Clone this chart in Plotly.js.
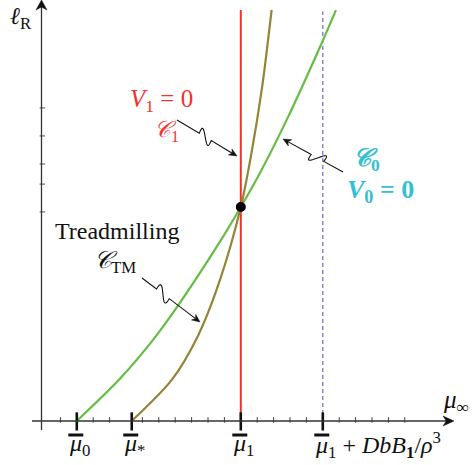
<!DOCTYPE html>
<html><head><meta charset="utf-8">
<script src="https://cdn.plot.ly/plotly-3.0.1.min.js"></script>
<style>html,body{margin:0;padding:0;background:#fff}</style>
</head><body><div id="chart" style="width:475px;height:465px"></div>
<script>
// ---- data (x: mu_inf units, y: l_R units) ----
const greenX = [2.0, 4.6, 6.65, 8.0, 10.73, 12.0, 13.17, 14.88, 16.97, 17.8];
const greenY = [0, 1.95, 3.79, 5.2, 8.38, 10.0, 11.59, 14.2, 17.72, 19.2];
const oliveX = [5.35, 7.79, 9.4, 10.73, 12.0, 12.6, 13.3, 13.88];
const oliveY = [0, 1.92, 4.0, 6.59, 10.0, 12.3, 15.6, 19.21];
const redX = [12, 12];
const redY = [0, 19.2];
const blueX = [17, 17];
const blueY = [0, 19.13];
const dotX = [12];
const dotY = [10];
const majorTickX = [2, 5.35, 12, 17];
const minorTickX = [1, 3, 4, 6, 7, 8, 9, 10, 11, 13, 14, 15, 16, 18, 19, 20, 21, 22];
const yTickY = [9.77, 11.07, 12.01, 13.32, 14.63];
const tickLabels = ['<i>μ</i><sub>0</sub>', '<i>μ</i><sub>*</sub>', '<i>μ</i><sub>1</sub>',
  '<i>μ</i><sub>1</sub> + <i>DbB</i><sub><b>1</b></sub>/<i>ρ</i><sup>3</sup>'];

// ---- geometry ----
const W = 475, H = 465;
const X0 = 44, SX = 16.4, Y0 = 421, SY = 21.4;
const xr = [-X0 / SX, (W - X0) / SX];
const yr = [(Y0 - H) / SY, Y0 / SY];
const px = v => v / W;
const py = v => 1 - v / H;
const P = p => px(p[0]).toFixed(5) + ',' + py(p[1]).toFixed(5);
const dataToPx = x => X0 + SX * x;

const AX = '#333333';
const FONT = 'Liberation Serif';
const RED = '#f5302c', CYAN = '#35bfd3';
const SP = '\u00a0';

function arrowHead(tip, ux, uy, L, hw, col) {
  const nx = -uy, ny = ux;
  const b = [tip[0] - ux * L, tip[1] - uy * L];
  const l = [b[0] + nx * hw, b[1] + ny * hw];
  const r = [b[0] - nx * hw, b[1] - ny * hw];
  const m = [tip[0] - ux * L * 0.7, tip[1] - uy * L * 0.7];
  return {type: 'path', xref: 'paper', yref: 'paper',
    path: 'M ' + P(tip) + ' L ' + P(l) + ' L ' + P(m) + ' L ' + P(r) + ' Z',
    fillcolor: col, line: {color: col, width: 0.5}};
}
function snake(A, B, t0, t1, amp, sign) {
  const dx = B[0] - A[0], dy = B[1] - A[1], len = Math.hypot(dx, dy);
  const ux = dx / len, uy = dy / len, nx = -uy, ny = ux;
  const pts = [A];
  for (let i = 0; i <= 30; i++) {
    const s = i / 30;
    const a = (t0 + (t1 - t0) * s) * len - 3 * Math.sin(2 * Math.PI * s);
    const p = sign * amp * Math.sin(2 * Math.PI * s);
    pts.push([A[0] + ux * a + nx * p, A[1] + uy * a + ny * p]);
  }
  const e = len - 6;
  pts.push([A[0] + ux * e, A[1] + uy * e]);
  return [
    {type: 'path', xref: 'paper', yref: 'paper', path: 'M ' + pts.map(P).join(' L '),
      line: {color: '#111', width: 1.1}},
    arrowHead(B, ux, uy, 8, 3.5, '#111')
  ];
}

const shapes = [
  {type: 'line', xref: 'paper', yref: 'paper', x0: px(32), x1: px(447), y0: py(421), y1: py(421), line: {color: AX, width: 1.3}},
  {type: 'line', xref: 'paper', yref: 'paper', x0: px(41.5), x1: px(41.5), y0: py(430), y1: py(7), line: {color: AX, width: 1.3}},
  arrowHead([454, 421], 1, 0, 11, 5, '#111'),
  arrowHead([41.5, 0], 0, -1, 10, 5.5, '#111'),
  ...snake([177, 120], [237, 156], 0.37, 0.57, 6, -1),
  ...snake([343, 172], [283, 139], 0.32, 0.53, 6, 1),
  ...snake([142, 278], [200, 322], 0.25, 0.47, 6, -1)
];
// overline bars above each tick label's mu
majorTickX.forEach(x => {
  const c = dataToPx(x);
  shapes.push({type: 'rect', xref: 'paper', yref: 'paper', x0: px(c - 8.5), x1: px(c + 6.5),
    y0: py(436.5), y1: py(433.5), fillcolor: '#111', line: {width: 0}});
});

function ann(text, x, y, size, color, o) {
  return Object.assign({xref: 'paper', yref: 'paper', x: px(x), y: py(y), text: text,
    showarrow: false, xanchor: 'center', yanchor: 'middle', borderpad: 0,
    font: {family: FONT, size: size, color: color}}, o || {});
}
const annotations = [
  ann('<i>ℓ</i><sub>R</sub>', 21, 18, 24, '#111'),
  ann('<i>μ</i><sub>∞</sub>', 456, 401, 25, '#111'),
  ann('<i>V</i><sub>1</sub>' + SP + '=' + SP + '0', 161, 101, 25, RED),
  ann('<i>𝒞</i><sub>1</sub>', 166, 131, 23, RED),
  ann('<b><i>𝒞</i><sub>0</sub></b>', 366, 159, 25, CYAN),
  ann('<b><i>V</i><sub>0</sub>' + SP + '=' + SP + '0</b>', 380, 191, 26, CYAN),
  ann('Treadmilling', 117, 231, 24, '#111'),
  ann('<i>𝒞</i><sub>TM</sub>', 115, 262, 24, '#111')
];
majorTickX.forEach((x, i) => {
  annotations.push(ann(tickLabels[i], dataToPx(x) - 9, 445, 24, '#111', {xanchor: 'left'}));
});

const traces = [
  {x: redX, y: redY, mode: 'lines', line: {color: RED, width: 2}, hoverinfo: 'skip'},
  {x: blueX, y: blueY, mode: 'lines', line: {color: '#6a6acb', width: 1.2, dash: '4px,3px'}, hoverinfo: 'skip'},
  {x: greenX, y: greenY, mode: 'lines', line: {color: '#66bd44', width: 2.2, shape: 'spline', smoothing: 0.8}, hoverinfo: 'skip'},
  {x: oliveX, y: oliveY, mode: 'lines', line: {color: '#968436', width: 2.2, shape: 'spline', smoothing: 0.8}, hoverinfo: 'skip'},
  {x: minorTickX, y: minorTickX.map(() => 0.05), mode: 'markers',
    marker: {symbol: 'line-ns', size: 4, line: {color: '#444', width: 1}}, hoverinfo: 'skip'},
  {x: majorTickX, y: majorTickX.map(() => -0.02), mode: 'markers',
    marker: {symbol: 'line-ns', size: 13, line: {color: '#111', width: 2.6}}, hoverinfo: 'skip'},
  {x: yTickY.map(() => -0.1), y: yTickY, mode: 'markers',
    marker: {symbol: 'line-ew', size: 4, line: {color: '#555', width: 1}}, hoverinfo: 'skip'},
  {x: dotX, y: dotY, mode: 'markers', marker: {color: '#000', size: 10}, hoverinfo: 'skip'}
];

Plotly.newPlot('chart', traces, {
  width: W, height: H, margin: {l: 0, r: 0, t: 0, b: 0, pad: 0},
  font: {family: FONT},
  paper_bgcolor: '#fff', plot_bgcolor: '#fff', showlegend: false,
  xaxis: {range: xr, visible: false, fixedrange: true},
  yaxis: {range: yr, visible: false, fixedrange: true},
  shapes: shapes, annotations: annotations
}, {staticPlot: true});
</script></body></html>
